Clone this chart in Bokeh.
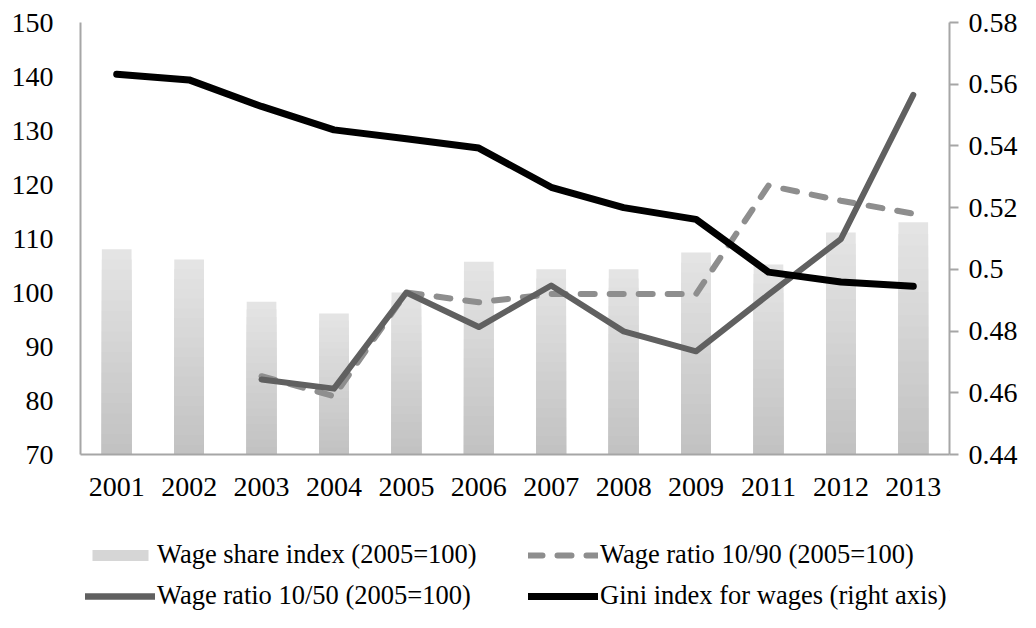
from bokeh.plotting import figure
from bokeh.layouts import column
from bokeh.models import (ColumnDataSource, FactorRange, Range1d, LinearAxis, Legend,
                          LegendItem, CustomJSTickFormatter, FixedTicker)
from bokeh.embed import file_html
from bokeh.resources import INLINE

# ---- data ----
years = ["2001", "2002", "2003", "2004", "2005", "2006", "2007", "2008", "2009", "2011", "2012", "2013"]
wage_share = [108.0, 106.1, 98.3, 96.1, 100.0, 105.7, 104.3, 104.3, 107.4, 105.2, 111.1, 113.0]
ratio_10_90 = [None, None, 84.5, 80.8, 100.0, 98.2, 99.7, 99.7, 99.7, 119.8, 117.0, 114.6]
ratio_10_50 = [None, None, 83.9, 82.2, 100.0, 93.6, 101.3, 92.8, 89.1, 99.6, 109.9, 136.6]
gini = [0.5632, 0.5614, 0.5528, 0.5452, 0.5423, 0.5393, 0.5266, 0.5200, 0.5162, 0.4991, 0.4959, 0.4945]

left_ticks = [70, 80, 90, 100, 110, 120, 130, 140, 150]
right_ticks = [0.44, 0.46, 0.48, 0.50, 0.52, 0.54, 0.56, 0.58]

labels = ["Wage share index (2005=100)", "Wage ratio 10/90 (2005=100)",
          "Wage ratio 10/50 (2005=100)", "Gini index for wages (right axis)"]

FONT = "Liberation Serif"
FS = "28px"
LFS = "26.5px"
AXIS_GRAY = "#a6a6a6"
C90 = "#8e8e8e"
C50 = "#606060"

p = figure(x_range=FactorRange(*years, range_padding=0), y_range=Range1d(70, 150),
           width=1020, height=530, output_backend="svg", toolbar_location=None,
           min_border_left=80, min_border_right=68, min_border_top=22, min_border_bottom=76)
p.extra_y_ranges = {"gini": Range1d(0.44, 0.58)}
p.outline_line_color = None
p.xgrid.visible = False
p.ygrid.visible = False

# ---- gradient bars (overlapping slices, light top -> darker bottom) ----
N = 20
base = 70.0
bx, btop, bcol = [], [], []
for yr, v in zip(years, wage_share):
    for k in range(N - 1, -1, -1):
        bx.append(yr)
        btop.append(base + (v - base) * (k + 1) / N)
        g = int(round(193 + (229 - 193) * (k + 0.5) / N))
        bcol.append("#%02x%02x%02x" % (g, g, g))
bar_src = ColumnDataSource(dict(x=bx, top=btop, color=bcol))
p.vbar(x="x", top="top", bottom=base, width=0.41, source=bar_src,
       fill_color="color", line_color=None)

def pick(vals):
    xs = [y for y, v in zip(years, vals) if v is not None]
    ys = [v for v in vals if v is not None]
    return xs, ys

x90, y90 = pick(ratio_10_90)
x50, y50 = pick(ratio_10_50)

p.line(x90, y90, line_color=C90, line_width=6, line_dash="14 15",
       line_cap="round", line_join="round")
p.line(x50, y50, line_color=C50, line_width=6, line_cap="round", line_join="round")
p.line(years, gini, line_color="black", line_width=7, y_range_name="gini",
       line_cap="round", line_join="round")

# ---- axes ----
yl = p.yaxis[0]
yl.ticker = FixedTicker(ticks=left_ticks)
yl.major_tick_out = 0
yl.major_tick_in = 0
yl.minor_tick_out = 0
yl.minor_tick_in = 0
yl.axis_line_color = AXIS_GRAY
yl.axis_line_width = 2
yl.major_label_text_font = FONT
yl.major_label_text_font_size = FS
yl.major_label_text_color = "black"
yl.major_label_standoff = 27

xa = p.xaxis[0]
xa.major_tick_out = 0
xa.major_tick_in = 0
xa.axis_line_color = AXIS_GRAY
xa.axis_line_width = 2
xa.major_label_text_font = FONT
xa.major_label_text_font_size = FS
xa.major_label_text_color = "black"
xa.major_label_standoff = 23

yr_axis = LinearAxis(y_range_name="gini", ticker=FixedTicker(ticks=right_ticks),
                     formatter=CustomJSTickFormatter(code="return String(Math.round(tick*100)/100);"))
yr_axis.major_tick_out = 9
yr_axis.major_tick_in = 0
yr_axis.minor_tick_out = 0
yr_axis.minor_tick_in = 0
yr_axis.major_tick_line_color = AXIS_GRAY
yr_axis.major_tick_line_width = 2
yr_axis.axis_line_color = AXIS_GRAY
yr_axis.axis_line_width = 2
yr_axis.major_label_text_font = FONT
yr_axis.major_label_text_font_size = FS
yr_axis.major_label_text_color = "black"
yr_axis.major_label_standoff = 10
p.add_layout(yr_axis, "right")

# ---- legend strip (separate figure below; proxies lie outside its view) ----
q = figure(width=1020, height=82, x_range=Range1d(0, 1), y_range=Range1d(0, 1),
           output_backend="svg", toolbar_location=None, min_border=0,
           x_axis_type=None, y_axis_type=None)
q.outline_line_color = None
q.grid.visible = False

d_bar = q.vbar(x=[5], top=[5], bottom=4, width=0.4, fill_color="#d6d6d6", line_color=None)
d90 = q.line(x=[5, 6], y=[5, 5], line_color=C90, line_width=6, line_dash="14 15", line_cap="round")
d50 = q.line(x=[5, 6], y=[5, 5], line_color=C50, line_width=6.5, line_cap="round")
dg = q.line(x=[5, 6], y=[5, 5], line_color="black", line_width=7, line_cap="round")

def make_legend(items, loc):
    return Legend(items=items, location=loc, orientation="vertical",
                  glyph_width=70, glyph_height=14, label_standoff=2, spacing=10,
                  padding=0, margin=0, border_line_color=None, background_fill_alpha=0,
                  label_text_font=FONT, label_text_font_size=LFS, label_text_color="black",
                  label_height=30)

q.add_layout(make_legend([LegendItem(label=labels[0], renderers=[d_bar]),
                          LegendItem(label=labels[2], renderers=[d50])], (5, 1)))
q.add_layout(make_legend([LegendItem(label=labels[1], renderers=[d90]),
                          LegendItem(label=labels[3], renderers=[dg])], (448, 1)))

layout = column(p, q, spacing=0)
open("out.html", "w").write(file_html(layout, INLINE))
